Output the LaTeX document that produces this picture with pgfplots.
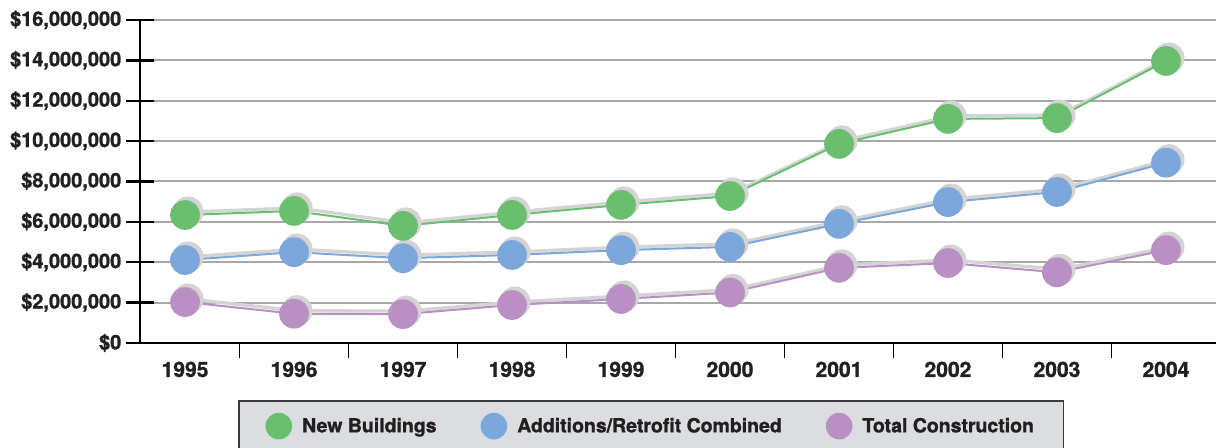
\documentclass[border=0pt]{standalone}
\usepackage{pgfplots}
\pgfplotsset{compat=1.18}
\usepackage{fontspec}
\setmainfont{TeX Gyre Heros}[BoldFeatures={FakeBold=1.2}]
\definecolor{greenc}{HTML}{6ABF6E}
\definecolor{bluec}{HTML}{7BA7DA}
\definecolor{purplec}{HTML}{BA8FC4}
\definecolor{shadowc}{HTML}{CFCFCF}
\definecolor{shadowl}{HTML}{D4D4D4}
\definecolor{gridc}{HTML}{A8A8AA}
\definecolor{textc}{HTML}{231F20}
\definecolor{legfill}{HTML}{DCDDE0}
\definecolor{legdraw}{HTML}{3A3A3A}
\pgfplotstableread{
x newb addr total
0 6.34 4.11 2.03
1 6.54 4.50 1.45
2 5.80 4.20 1.43
3 6.34 4.36 1.88
4 6.84 4.60 2.18
5 7.28 4.76 2.50
6 9.86 5.90 3.72
7 11.10 6.98 3.96
8 11.14 7.48 3.50
9 13.97 8.93 4.60
}\data
\begin{document}
\begin{tikzpicture}
\path[use as bounding box] (0,0) rectangle (912pt,336pt);
\begin{axis}[
  at={(105pt,78.75pt)}, anchor=south west,
  width=807pt, height=242.25pt, scale only axis,
  xmin=-0.413, xmax=9.459, ymin=0, ymax=16,
  axis x line*=bottom, axis y line*=left,
  axis line style={line width=1.5pt, black},
  xtick={0,...,9},
  xticklabels={1995,1996,1997,1998,1999,2000,2001,2002,2003,2004},
  xtick style={draw=none},
  extra x ticks={0.5,1.5,2.5,3.5,4.5,5.5,6.5,7.5,8.5},
  extra x tick labels={},
  extra x tick style={tick align=outside, major tick length=11pt, xtick style={draw=black, line width=1pt}},
  ytick={0,2,...,16},
  yticklabels={{\$0},{\$2,000,000},{\$4,000,000},{\$6,000,000},{\$8,000,000},{\$10,000,000},{\$12,000,000},{\$14,000,000},{\$16,000,000}},
  ytick style={line width=1.7pt, black},
  tick align=center, major tick length=21pt,
  ymajorgrids, grid style={line width=1.5pt, gridc},
  yticklabel style={font=\fontsize{15}{18}\selectfont\bfseries, text=textc},
  xticklabel style={font=\fontsize{15.8}{18}\selectfont\bfseries, text=textc},
  legend columns=3,
  legend image code/.code={\fill[#1, draw=none] (0pt,0pt) circle (10pt);},
  legend style={at={(0.0911,0)}, anchor=north west, yshift=-42.75pt,
    fill=legfill, draw=legdraw, line width=1.2pt,
    inner xsep=20pt, inner ysep=9pt,
    font=\fontsize{14.6}{17}\selectfont\bfseries, text=textc,
    /tikz/every odd column/.append style={column sep=5.5pt},
    /tikz/every even column/.append style={column sep=31pt}},
]
\foreach \s in {newb,addr,total}{
\addplot[forget plot, shadowl, line width=2.5pt, mark=*, mark size=10.4pt,
  mark options={draw=none, fill=shadowc}, xshift=2.25pt, yshift=2.25pt]
  table[x=x, y=\s] {\data};
}
\addplot[greenc, line width=1.5pt, mark=*, mark size=10.4pt, mark options={draw=none, fill=greenc}] table[x=x, y=newb] {\data};
\addplot[bluec, line width=1.5pt, mark=*, mark size=10.4pt, mark options={draw=none, fill=bluec}] table[x=x, y=addr] {\data};
\addplot[purplec, line width=1.5pt, mark=*, mark size=10.4pt, mark options={draw=none, fill=purplec}] table[x=x, y=total] {\data};
\legend{New Buildings, Additions/Retrofit Combined, Total Construction}
\end{axis}
\end{tikzpicture}
\end{document}
